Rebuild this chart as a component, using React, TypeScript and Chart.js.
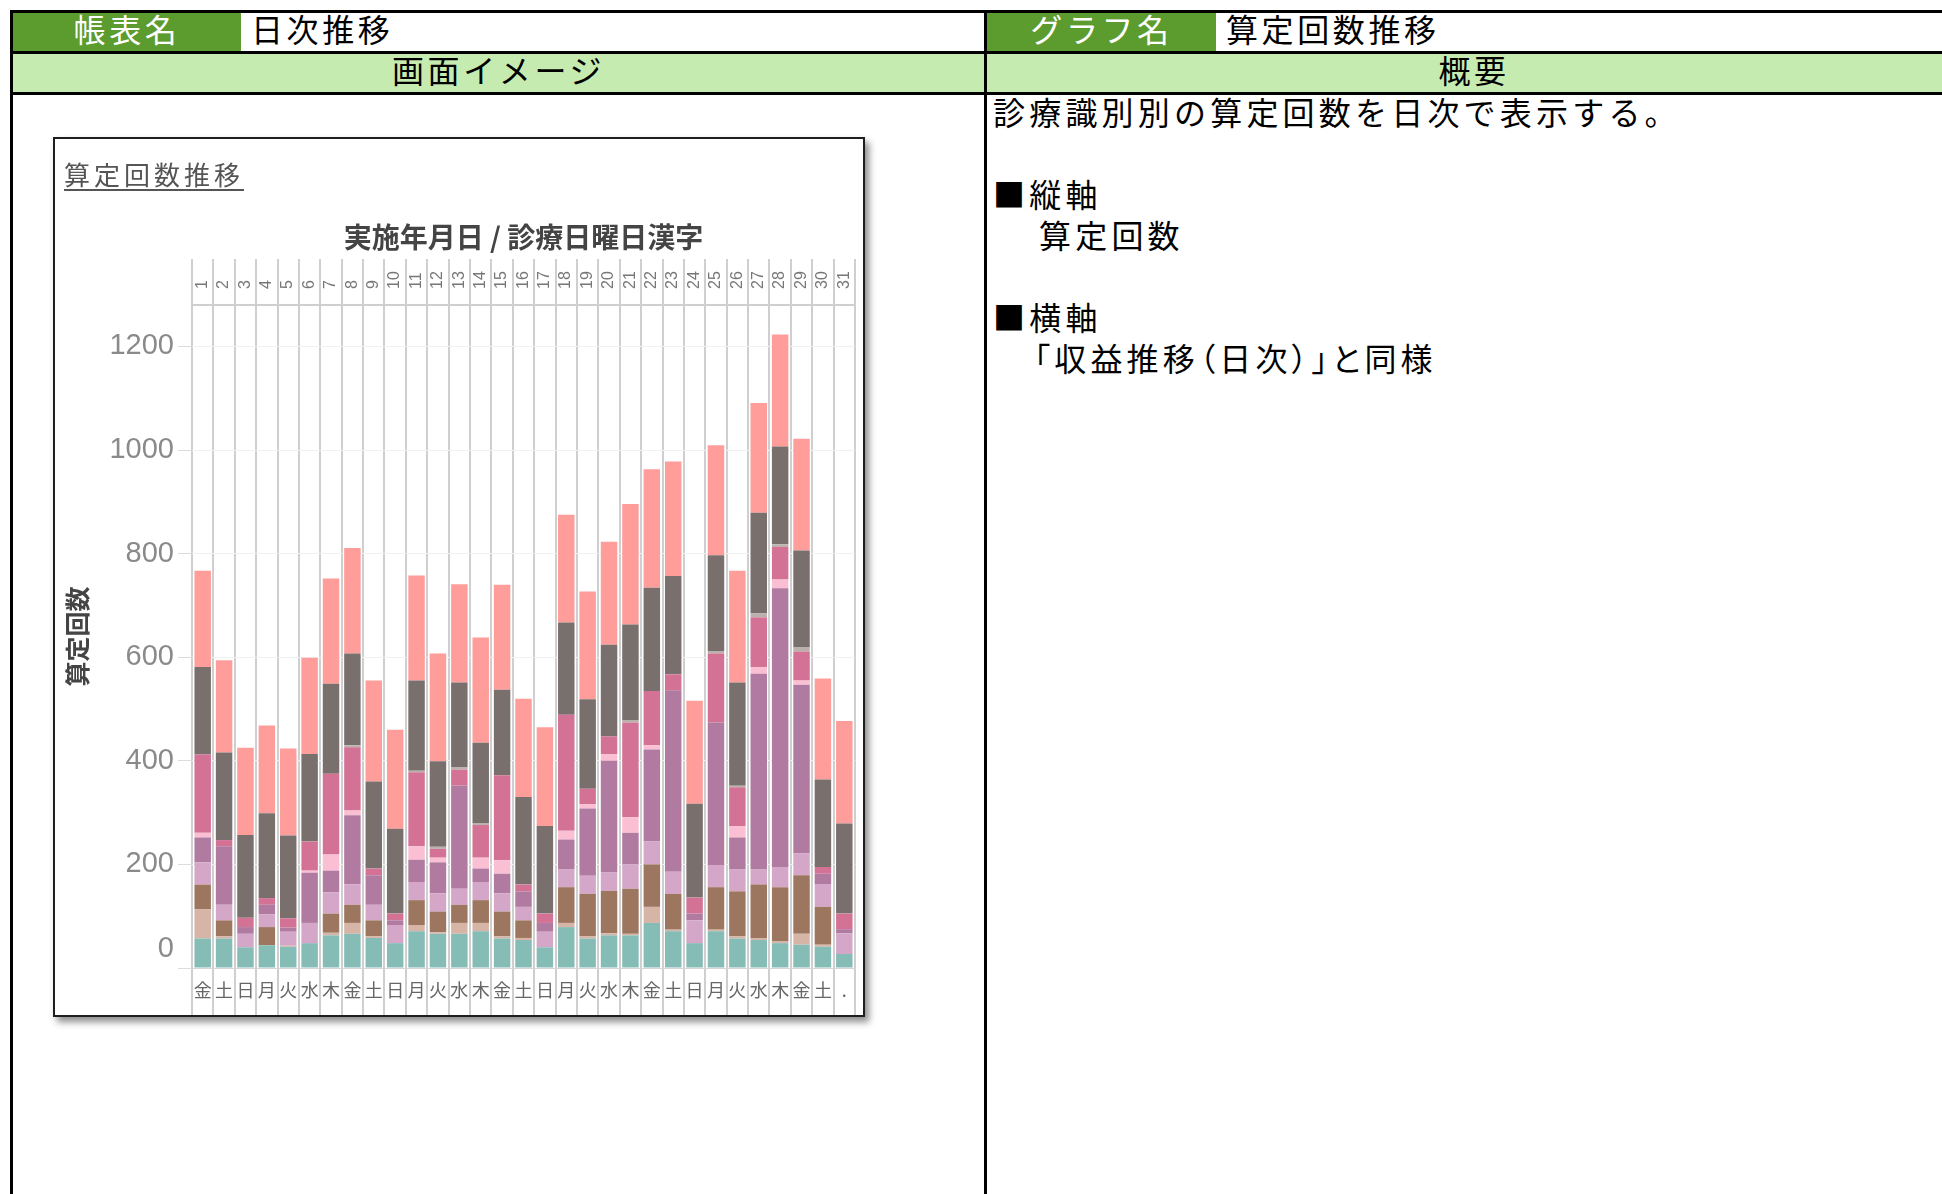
import React, { useEffect, useRef } from "react";
import { Chart, registerables } from "chart.js";

Chart.register(...registerables);

// ---------- data ----------
const dayLabels = ["1", "2", "3", "4", "5", "6", "7", "8", "9", "10", "11", "12", "13", "14", "15", "16", "17", "18", "19", "20", "21", "22", "23", "24", "25", "26", "27", "28", "29", "30", "31"];
const weekdayLabels = ["金", "土", "日", "月", "火", "水", "木", "金", "土", "日", "月", "火", "水", "木", "金", "土", "日", "月", "火", "水", "木", "金", "土", "日", "月", "火", "水", "木", "金", "土", "."];

// stacked series, bottom -> top
const seriesNames = ["識別01", "識別02", "識別03", "識別04", "識別05", "識別06", "識別07", "識別08", "識別09", "識別10"];
const seriesColors = ["#86BCB6", "#D7B5A6", "#9D7660", "#D4A6C8", "#B07AA1", "#FABFD2", "#D37295", "#BAB0AC", "#79706E", "#FF9D9A"];

const s01 = [57, 57, 40, 44, 41, 48, 63, 66, 58, 48, 71, 66, 66, 71, 57, 54, 40, 79, 57, 63, 63, 87, 71, 48, 71, 57, 54, 48, 45, 41, 27];
const s02 = [56, 4, 0, 0, 2, 0, 5, 21, 3, 0, 12, 3, 21, 16, 4, 4, 0, 8, 4, 4, 3, 31, 3, 0, 3, 4, 3, 3, 21, 4, 0];
const s03 = [48, 31, 0, 35, 0, 0, 37, 35, 31, 0, 48, 40, 35, 44, 48, 34, 0, 69, 82, 82, 87, 82, 69, 0, 82, 87, 104, 105, 113, 73, 0];
const s04 = [43, 30, 26, 25, 27, 39, 41, 39, 30, 35, 35, 35, 31, 35, 35, 26, 30, 35, 35, 36, 47, 44, 43, 44, 43, 43, 30, 39, 42, 43, 40];
const s05 = [48, 113, 13, 18, 8, 97, 42, 134, 57, 9, 43, 60, 199, 26, 38, 30, 17, 57, 130, 215, 61, 178, 350, 13, 275, 61, 377, 538, 326, 21, 8];
const s06 = [9, 0, 0, 0, 0, 4, 31, 9, 0, 0, 26, 9, 0, 21, 26, 0, 0, 17, 8, 13, 30, 8, 0, 0, 0, 22, 13, 17, 8, 0, 0];
const s07 = [151, 12, 18, 13, 18, 56, 156, 122, 13, 13, 143, 17, 31, 63, 164, 13, 18, 224, 30, 34, 183, 105, 31, 31, 133, 75, 96, 63, 56, 13, 30];
const s08 = [0, 0, 0, 0, 0, 0, 0, 4, 0, 0, 3, 4, 4, 4, 0, 0, 0, 0, 0, 0, 4, 0, 0, 0, 4, 3, 8, 5, 8, 0, 0];
const s09 = [169, 169, 160, 164, 160, 169, 174, 177, 168, 164, 174, 165, 164, 155, 165, 169, 169, 178, 173, 177, 185, 199, 190, 181, 186, 199, 194, 189, 187, 169, 174];
const s10 = [186, 178, 168, 169, 168, 186, 203, 204, 195, 191, 203, 208, 190, 203, 203, 190, 191, 208, 208, 199, 233, 229, 221, 199, 212, 216, 212, 216, 216, 195, 198];
const seriesValues = [s01, s02, s03, s04, s05, s06, s07, s08, s09, s10];

const yMax = 1280;
const yStep = 200;

// ---------- styles ----------
const FONT = '"Noto Sans CJK JP", "Noto Sans", sans-serif';
const GREEN = "#5C9B2E";
const LIGHT = "#C6EBB1";
const TEXT_SHIFT = -4;

const box = (left: number, top: number, width: number, height: number, bg: string): React.CSSProperties => ({
  position: "absolute",
  left,
  top,
  width,
  height,
  background: bg,
});

const cellText = (
  left: number,
  top: number,
  width: number,
  height: number,
  color: string,
  center: boolean
): React.CSSProperties => ({
  position: "absolute",
  left,
  top: top + TEXT_SHIFT,
  width,
  height,
  display: "flex",
  alignItems: "center",
  justifyContent: center ? "center" : "flex-start",
  color,
  fontSize: 32,
  letterSpacing: "3.6px",
  lineHeight: `${height}px`,
  whiteSpace: "nowrap",
});

const bodyLine = (left: number, top: number, extra?: React.CSSProperties): React.CSSProperties => ({
  position: "absolute",
  left,
  top: top + TEXT_SHIFT,
  height: 41,
  lineHeight: "41px",
  fontSize: 32,
  letterSpacing: "4.2px",
  color: "#000",
  whiteSpace: "nowrap",
  ...(extra || {}),
});

function ChartBox() {
  const canvasRef = useRef<HTMLCanvasElement>(null);

  useEffect(() => {
    const canvas = canvasRef.current;
    if (!canvas) return;

    const zeroLabelPlugin = {
      id: "zeroLabel",
      afterDraw(chart: any) {
        const ys = chart.scales.y;
        const ctx = chart.ctx;
        ctx.save();
        ctx.font = '29px "Liberation Sans", Arial, sans-serif';
        ctx.fillStyle = "#8a8a8a";
        ctx.textAlign = "right";
        ctx.textBaseline = "middle";
        ctx.fillText("0", ys.right - 14 - 4, ys.getPixelForValue(0) - 19);
        ctx.restore();
      },
    };

    const chart = new Chart(canvas, {
      type: "bar",
      data: {
        labels: weekdayLabels,
        datasets: seriesValues.map((vals, i) => ({
          label: seriesNames[i],
          data: vals,
          backgroundColor: seriesColors[i],
          borderWidth: 0,
          barPercentage: 0.77,
          categoryPercentage: 1,
          xAxisID: "x",
          yAxisID: "y",
        })),
      },
      options: {
        animation: false,
        responsive: false,
        maintainAspectRatio: false,
        layout: { padding: { left: 0, right: 8, top: 0, bottom: 0 } },
        plugins: {
          legend: { display: false },
          tooltip: { enabled: false },
          title: { display: false },
        },
        scales: {
          x: {
            type: "category",
            position: "bottom",
            stacked: true,
            offset: true,
            grid: {
              offset: true,
              color: "#cfcfcf",
              lineWidth: 2,
              drawTicks: true,
              tickLength: 47,
              tickColor: "#cfcfcf",
              tickWidth: 2,
            },
            border: { display: true, color: "#d6d6d6", width: 1 },
            ticks: {
              autoSkip: false,
              minRotation: 0,
              maxRotation: 0,
              padding: -36,
              color: "#666666",
              font: { family: FONT, size: 18 },
            },
            afterFit: (s: any) => {
              s.height = 47;
            },
          },
          x2: {
            type: "category",
            labels: dayLabels,
            position: "top",
            offset: true,
            grid: {
              offset: true,
              drawOnChartArea: false,
              color: "#cfcfcf",
              lineWidth: 2,
              drawTicks: true,
              tickLength: 46,
              tickColor: "#cfcfcf",
              tickWidth: 2,
            },
            border: { display: true, color: "#cfcfcf", width: 2 },
            ticks: {
              autoSkip: false,
              minRotation: 90,
              maxRotation: 90,
              padding: -30,
              labelOffset: 19,
              color: "#777777",
              font: { family: '"Liberation Sans", Arial, sans-serif', size: 16 },
            },
            title: {
              display: true,
              text: "実施年月日 / 診療日曜日漢字",
              color: "#444444",
              font: { family: FONT, size: 28, weight: "bold", lineHeight: 1.2 },
              padding: { top: 82, bottom: 0 },
            },
            afterFit: (s: any) => {
              s.height = 166;
            },
          },
          y: {
            type: "linear",
            position: "left",
            stacked: true,
            min: 0,
            max: yMax,
            afterBuildTicks: (s: any) => {
              s.ticks = s.ticks.filter((t: any) => t.value % yStep === 0);
            },
            ticks: {
              stepSize: yStep,
              padding: 4,
              color: "#8a8a8a",
              font: { family: '"Liberation Sans", Arial, sans-serif', size: 29 },
              callback: (v: any) => (Number(v) === 0 ? "" : String(v)),
            },
            grid: {
              color: "#f0f0f0",
              lineWidth: 1,
              drawTicks: true,
              tickLength: 14,
              tickColor: "#dcdcdc",
            },
            border: { display: false },
            title: {
              display: true,
              text: "算定回数",
              color: "#444444",
              font: { family: FONT, size: 25, weight: "bold", lineHeight: 1.2 },
              padding: { top: 7, bottom: 0 },
            },
            afterFit: (s: any) => {
              s.width = 137;
            },
          },
        },
      } as any,
      plugins: [zeroLabelPlugin],
    });

    return () => chart.destroy();
  }, []);

  return (
    <div
      style={{
        position: "absolute",
        left: 53,
        top: 137,
        width: 808,
        height: 876,
        border: "2px solid #1e1e1e",
        background: "#fff",
        boxShadow: "4px 5px 7px rgba(0,0,0,0.45)",
      }}
    >
      <canvas ref={canvasRef} width={808} height={876} style={{ position: "absolute", left: 0, top: 0, width: 808, height: 876 }} />
      <div
        style={{
          position: "absolute",
          left: 9,
          top: 20,
          height: 30,
          lineHeight: "30px",
          fontSize: 26,
          letterSpacing: "4px",
          color: "#555",
          textDecoration: "underline",
          textUnderlineOffset: "4px",
          whiteSpace: "nowrap",
        }}
      >
        算定回数推移
      </div>
    </div>
  );
}

export default function App() {
  return (
    <div
      style={{
        position: "fixed",
        left: 0,
        top: 0,
        width: 1942,
        height: 1194,
        overflow: "hidden",
        background: "#fff",
        fontFamily: FONT,
      }}
    >
      {/* cell fills */}
      <div style={box(13, 13, 228, 38, GREEN)} />
      <div style={box(987, 13, 229, 38, GREEN)} />
      <div style={box(13, 54, 971, 38, LIGHT)} />
      <div style={box(987, 54, 1000, 38, LIGHT)} />

      {/* borders */}
      <div style={box(10, 10, 1940, 3, "#000")} />
      <div style={box(10, 51, 1940, 3, "#000")} />
      <div style={box(10, 92, 1940, 3, "#000")} />
      <div style={box(10, 10, 3, 1200, "#000")} />
      <div style={box(984, 10, 3, 1200, "#000")} />

      {/* header texts */}
      <div style={cellText(13, 13, 228, 38, "#fff", true)}>帳表名</div>
      <div style={cellText(251, 13, 700, 38, "#000", false)}>日次推移</div>
      <div style={cellText(987, 13, 229, 38, "#fff", true)}>グラフ名</div>
      <div style={cellText(1226, 13, 700, 38, "#000", false)}>算定回数推移</div>
      <div style={cellText(13, 54, 971, 38, "#000", true)}>画面イメージ</div>
      <div style={cellText(987, 54, 974, 38, "#000", true)}>概要</div>

      {/* description */}
      <div style={bodyLine(993, 95)}>診療識別別の算定回数を日次で表示する。</div>
      <div style={bodyLine(993, 177)}>■縦軸</div>
      <div style={bodyLine(1039, 218)}>算定回数</div>
      <div style={bodyLine(993, 300)}>■横軸</div>
      <div style={bodyLine(1034, 341, { fontFeatureSettings: '"palt"', letterSpacing: "4.2px" })}>「収益推移（日次）」と同様</div>

      <ChartBox />
    </div>
  );
}
